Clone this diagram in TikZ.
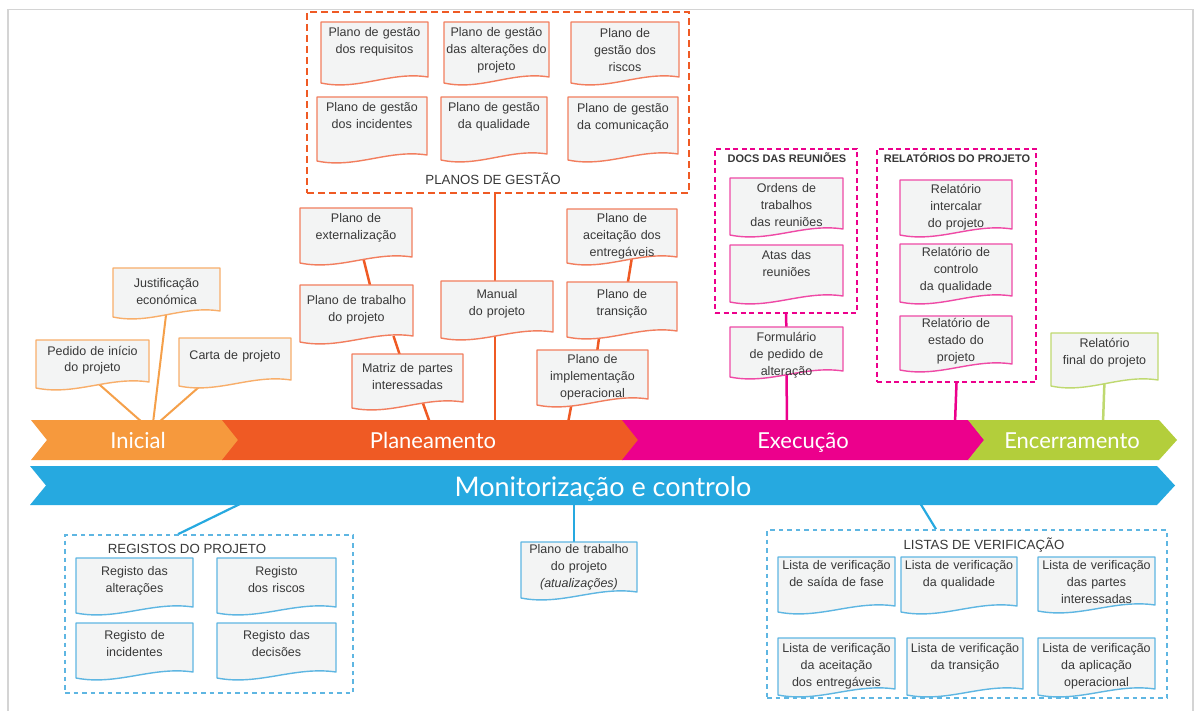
\documentclass[tikz,border=0pt]{standalone}
\usepackage{fontspec}
\setmainfont{Liberation Sans}
\newfontfamily\phasefont{Lato}
\usetikzlibrary{calc}
\pgfdeclarelayer{bottom}
\pgfdeclarelayer{background}
\pgfsetlayers{bottom,background,main}

\definecolor{cIni}{HTML}{F6993D}
\definecolor{cIniL}{HTML}{F8AE6A}
\definecolor{cIniC}{HTML}{F5A04A}
\definecolor{cPla}{HTML}{EF5A24}
\definecolor{cPlaL}{HTML}{F27E5E}
\definecolor{cExe}{HTML}{EC008C}
\definecolor{cExeL}{HTML}{EF4AA6}
\definecolor{cEnc}{HTML}{B3CE3B}
\definecolor{cEncL}{HTML}{BFD970}
\definecolor{cMon}{HTML}{26A9E0}
\definecolor{cMonL}{HTML}{5EB6E2}
\definecolor{docfill}{HTML}{F3F4F4}
\definecolor{ink}{HTML}{383838}
\definecolor{framec}{HTML}{D4D4D4}

\newcommand\doctextfont{\fontsize{12.5}{17}\selectfont}

\tikzset{
  docline/.style={draw=#1, fill=docfill, line width=1.4pt, line join=round},
  docarea/.style={inner sep=0pt, outer sep=0pt},
  doctext/.style={anchor=base, align=center, inner sep=0pt, font=\doctextfont, text=ink},
  grpPla/.style={draw=cPla, line width=2pt, dash pattern=on 7pt off 4pt, inner sep=0pt},
  grpExe/.style={draw=cExe, line width=2pt, dash pattern=on 5pt off 3.5pt, inner sep=0pt},
  grpMon/.style={draw=cMonL, line width=1.6pt, dash pattern=on 4.5pt off 4pt, inner sep=0pt},
  grplabel/.style={anchor=base, inner sep=0pt, text=ink, font=\fontsize{13.3}{15}\selectfont},
  grplabelb/.style={anchor=base, inner sep=0pt, text=ink, font=\fontsize{11}{13}\selectfont\bfseries},
  phase/.style={anchor=base, inner sep=0pt, text=white, font=\phasefont\fontsize{22}{24}\selectfont},
  conIni/.style={draw=cIniC, line width=2pt},
  conPla/.style={draw=cPla, line width=2.5pt},
  conExe/.style={draw=cExe, line width=2.5pt},
  conEnc/.style={draw=cEncL, line width=2.5pt},
  conMon/.style={draw=cMon, line width=2.2pt},
}

% document symbol: [baseline offset of first line] name, x0, y0, x1, y1 (left bottom), colour, text
\newcommand\docbox[8][14.5]{%
  \draw[docline=#7] (#3,#4) -- (#3,#6)
    .. controls ({#3+0.35*(#5-#3)},{#6+8}) and ({#3+0.65*(#5-#3)},{#6-12}) .. (#5,{#6-6})
    -- (#5,#4) -- cycle;
  \node[docarea, minimum width={(#5-#3)*1pt}, minimum height={(#6-#4)*1pt}] (#2) at ({(#3+#5)/2},{(#4+#6)/2}) {};
  \node[doctext, text width={(#5-#3-3)*1pt}] (#2-t) at ({(#3+#5)/2},{#4+#1}) {#8};
}
% dashed group frame: name, x0, y0, x1, y1, style
\newcommand\grpbox[6]{%
  \node[#6, minimum width={(#4-#2)*1pt}, minimum height={(#5-#3)*1pt}] (#1) at ({(#2+#4)/2},{(#3+#5)/2}) {};
}

\hyphenpenalty=10000
\exhyphenpenalty=10000

\begin{document}
\begin{tikzpicture}[x=1pt, y=-1pt]
\useasboundingbox (0,0) rectangle (1194,711);
\begin{pgfonlayer}{bottom}
\fill[white] (0,0) rectangle (1194,711);
\draw[framec, line width=1.2pt] (8,711) -- (8,9.5) -- (1193,9.5) -- (1193,711);
\end{pgfonlayer}

% phase bars
\fill[cIni] (31,420) -- (222.5,420) -- (238.5,440) -- (222.5,460) -- (31,460) -- (47,440) -- cycle;
\fill[cPla] (222,420) -- (622.5,420) -- (638.5,440) -- (622.5,460) -- (222,460) -- (238,440) -- cycle;
\fill[cExe] (622,420) -- (968.5,420) -- (984.5,440) -- (968.5,460) -- (622,460) -- (638,440) -- cycle;
\fill[cEnc] (968,420) -- (1159,420) -- (1177,440) -- (1159,460) -- (968,460) -- (984,440) -- cycle;
\fill[cMon] (30,466) -- (1157,466) -- (1175,485.5) -- (1157,505) -- (30,505) -- (46,485.5) -- cycle;

\node[phase] (ini-l) at (138,448) {Inicial};
\node[phase] (pla-l) at (433,448) {Planeamento};
\node[phase] (exe-l) at (803,448) {Execução};
\node[phase] (enc-l) at (1072,448) {Encerramento};
\node[phase, font=\phasefont\fontsize{27}{30}\selectfont] (mon-l) at (603,496) {Monitorização e controlo};

% connection points on the bars
\coordinate (ci1) at (143,423);
\coordinate (ci2) at (153,423);
\coordinate (ci3) at (158,423);
\coordinate (cp1) at (430,423);
\coordinate (cp2) at (495,423);
\coordinate (cp3) at (568,423);
\coordinate (ce1) at (787,423);
\coordinate (ce2) at (955,423);
\coordinate (cf1) at (1103,423);
\coordinate (cm1) at (242,503);
\coordinate (cm2) at (574,503);
\coordinate (cm3) at (920,503);

% groups
\grpbox{planos}{307}{12}{689}{193}{grpPla}
\grpbox{reun}{715}{149}{857}{313}{grpExe}
\grpbox{rels}{877}{149}{1036}{382}{grpExe}
\grpbox{regs}{65}{535}{353}{693}{grpMon}
\grpbox{listas}{767}{530}{1167}{698}{grpMon}

\node[grplabel] (planos-l) at (493,185) {PLANOS DE GESTÃO};
\node[grplabelb] (reun-l) at (787,163) {DOCS DAS REUNIÕES};
\node[grplabelb] (rels-l) at (957,163) {RELATÓRIOS DO PROJETO};
\node[grplabel] (regs-l) at (187,553) {REGISTOS DO PROJETO};
\node[grplabel] (listas-l) at (984,549) {LISTAS DE VERIFICAÇÃO};

% initiation
\docbox[19.5]{justif}{113}{268}{220}{317}{cIniL}{Justificação\\económica}
\docbox[15]{pedido}{36}{340}{149}{388}{cIniL}{Pedido de início\\do projeto}
\docbox[21.5]{carta}{179}{338}{291}{386}{cIniL}{Carta de projeto}

% management plans
\docbox{pgreq}{321}{22}{428}{83}{cPlaL}{Plano de gestão\\dos requisitos}
\docbox{pgalt}{444}{22}{549}{83}{cPlaL}{Plano de gestão\\das alterações do\\projeto}
\docbox[15.5]{pgris}{571}{22}{679}{83}{cPlaL}{Plano de\\gestão dos\\riscos}
\docbox{pginc}{317}{97}{427}{161}{cPlaL}{Plano de gestão\\dos incidentes}
\docbox{pgqua}{441}{97}{547}{160}{cPlaL}{Plano de gestão\\da qualidade}
\docbox[15.5]{pgcom}{568}{97}{678}{160}{cPlaL}{Plano de gestão\\da comunicação}

% planning
\docbox{ext}{300}{208}{412}{263}{cPlaL}{Plano de\\externalização}
\docbox[19.5]{trab}{300}{285}{413}{342}{cPlaL}{Plano de trabalho\\do projeto}
\docbox[18.5]{matriz}{352}{354}{463}{408}{cPlaL}{Matriz de partes\\interessadas}
\docbox[17.5]{manual}{441}{281}{553}{338}{cPlaL}{Manual\\do projeto}
\docbox[13.5]{aceit}{567}{209}{677}{263}{cPlaL}{Plano de\\aceitação dos\\entregáveis}
\docbox[16.5]{trans}{567}{282}{677}{337}{cPlaL}{Plano de\\transição}
\docbox[13.5]{impl}{537}{350}{648}{405}{cPlaL}{Plano de\\implementação\\operacional}

% execution
\docbox{ordens}{730}{178}{843}{235}{cExeL}{Ordens de\\trabalhos\\das reuniões}
\docbox{atas}{730}{245}{843}{302}{cExeL}{Atas das\\reuniões}
\docbox{form}{730}{327}{843}{377}{cExeL}{Formulário\\de pedido de\\alteração}
\docbox[13.5]{relint}{900}{180}{1012}{235}{cExeL}{Relatório\\intercalar\\do projeto}
\docbox[12.5]{relcq}{900}{244}{1012}{302}{cExeL}{Relatório de\\controlo\\da qualidade}
\docbox[11.5]{relest}{900}{316}{1012}{370}{cExeL}{Relatório de\\estado do\\projeto}

% closing
\docbox{final}{1051}{333}{1158}{386}{cEncL}{Relatório\\final do projeto}

% monitoring and control
\docbox[17.5]{regalt}{76}{558}{193}{613}{cMonL}{Registo das\\alterações}
\docbox[17.5]{regris}{217}{558}{336}{613}{cMonL}{Registo\\dos riscos}
\docbox[16.5]{reginc}{76}{623}{193}{678}{cMonL}{Registo de\\incidentes}
\docbox[16.5]{regdec}{217}{623}{336}{678}{cMonL}{Registo das\\decisões}
\docbox[11.5]{ptatu}{521}{542}{637}{598}{cMonL}{Plano de trabalho\\do projeto\\\textit{(atualizações)}}
\docbox[12.5]{lvsai}{778}{557}{895}{612}{cMonL}{Lista de verificação\\de saída de fase}
\docbox[12.5]{lvqua}{901}{557}{1017}{612}{cMonL}{Lista de verificação\\da qualidade}
\docbox[12.5]{lvpar}{1038}{557}{1155}{611}{cMonL}{Lista de verificação\\das partes\\interessadas}
\docbox{lvace}{778}{638}{895}{695}{cMonL}{Lista de verificação\\da aceitação\\dos entregáveis}
\docbox{lvtra}{907}{638}{1023}{695}{cMonL}{Lista de verificação\\da transição}
\docbox{lvapl}{1038}{638}{1155}{695}{cMonL}{Lista de verificação\\da aplicação\\operacional}

% connectors, behind the symbols
\begin{pgfonlayer}{background}
\draw[conIni] ([xshift=4pt,yshift=6pt]pedido.south) -- (ci1);
\draw[conIni] ([yshift=6pt]justif.south) -- (ci2);
\draw[conIni] ($(carta.south west)!0.25!(carta.south east)+(0,-6)$) -- (ci3);

\draw[conPla] ([xshift=7pt,yshift=6pt]ext.south) -- ([xshift=15pt,yshift=-6pt]trab.north);
\draw[conPla] ([xshift=37pt,yshift=6pt]trab.south) -- ([xshift=-6pt,yshift=-6pt]matriz.north);
\draw[conPla] ([xshift=15pt,yshift=6pt]matriz.south) -- (cp1);
\draw[conPla] (cp2 |- planos.south) -- (cp2);
\draw[conPla] ([xshift=10pt,yshift=6pt]aceit.south) -- ([xshift=5pt,yshift=-6pt]trans.north);
\draw[conPla] ([xshift=-22pt,yshift=6pt]trans.south) -- ([xshift=4pt,yshift=-6pt]impl.north);
\draw[conPla] ([xshift=-20pt,yshift=6pt]impl.south) -- (cp3);

\draw[conExe] (reun.south) -- ([yshift=-6pt]form.north);
\draw[conExe] ([yshift=6pt]form.south) -- (ce1);
\draw[conExe] (rels.south) -- (ce2);
\draw[conEnc] ([yshift=6pt]final.south) -- (cf1);

\draw[conMon] (cm1) -- ([xshift=-31pt]regs.north);
\draw[conMon] (cm2) -- (cm2 |- ptatu.center);
\draw[conMon] (cm3) -- ([xshift=-31pt]listas.north);
\end{pgfonlayer}
\end{tikzpicture}
\end{document}
